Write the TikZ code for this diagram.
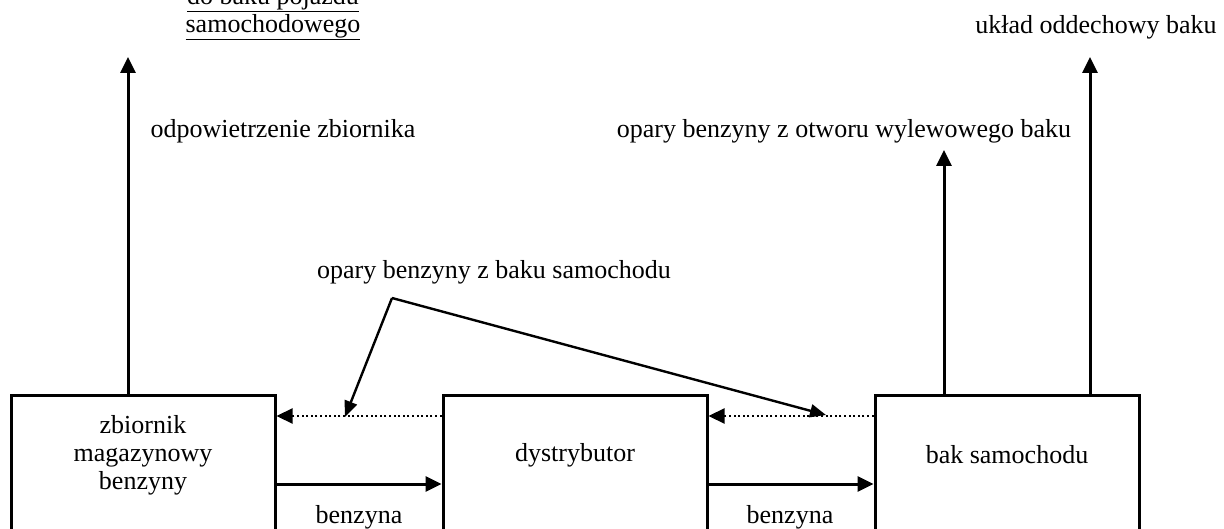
\documentclass[tikz,border=0pt]{standalone}
\usepackage{fontspec}
\setmainfont{Liberation Serif}
\usetikzlibrary{arrows.meta}
\tikzset{
  box/.style={draw, line width=3pt, minimum width=264pt, minimum height=240pt, inner sep=0pt},
  txt/.style={font=\fontsize{26}{28}\selectfont, inner sep=0pt, align=center},
  flow/.style={line width=3pt, -{Triangle[length=16pt,width=15pt]}},
  vap/.style={line width=2.2pt, dash pattern=on 2pt off 2.6pt, -{Triangle[length=16pt,width=15pt]}},
  ptr/.style={line width=2.4pt, -{Triangle[length=16pt,width=13pt]}}
}
\begin{document}
\begin{tikzpicture}[x=1pt,y=-1pt]
\useasboundingbox (0,0) rectangle (1224,529);
\clip (0,0) rectangle (1224,529);
% boxes
\node[box] (zb) at (143,515) {};
\node[box] (dys) at (575,515) {};
\node[box] (bak) at (1007,515) {};
\node[txt] (zbt) at (143,455) {zbiornik\\magazynowy\\benzyny};
\node[txt] (dyst) at (575,455) {dystrybutor};
\node[txt] (bakt) at (1007,455) {bak samochodu};
% free ends
\coordinate (up1) at (128,57);
\coordinate (up2) at (944,150);
\coordinate (up3) at (1090,57);
\coordinate (v) at (392,298);
\coordinate (d1) at (345,417);
\coordinate (d2) at (826,415);
% vertical arrows
\draw[flow] (up1 |- zb.north) -- (up1);
\draw[flow] (up2 |- bak.north) -- (up2);
\draw[flow] (up3 |- bak.north) -- (up3);
% liquid flow
\draw[flow] (zb.east |- 0,484) -- (dys.west |- 0,484);
\draw[flow] (dys.east |- 0,484) -- (bak.west |- 0,484);
% vapour return
\draw[vap] (dys.west |- 0,416) -- (zb.east |- 0,416);
\draw[vap] (bak.west |- 0,416) -- (dys.east |- 0,416);
% pointer
\draw[ptr] (v) -- (d1);
\draw[ptr] (v) -- (d2);
% labels
\node[txt] (lbz1) at (359,517) {benzyna};
\node[txt] (lbz2) at (790,517) {benzyna};
\node[txt] (lop) at (494,272) {opary benzyny z baku samochodu};
\node[txt] (lodp) at (283,131) {odpowietrzenie zbiornika};
\node[txt] (lwyl) at (844,131) {opary benzyny z otworu wylewowego baku};
\node[txt] (lodd) at (1096,27) {układ oddechowy baku};
\node[txt] (lsam) at (273,27) {\underline{samochodowego}};
\node[txt] (ldo) at (273,-1) {\underline{do baku pojazdu}};
\end{tikzpicture}
\end{document}
